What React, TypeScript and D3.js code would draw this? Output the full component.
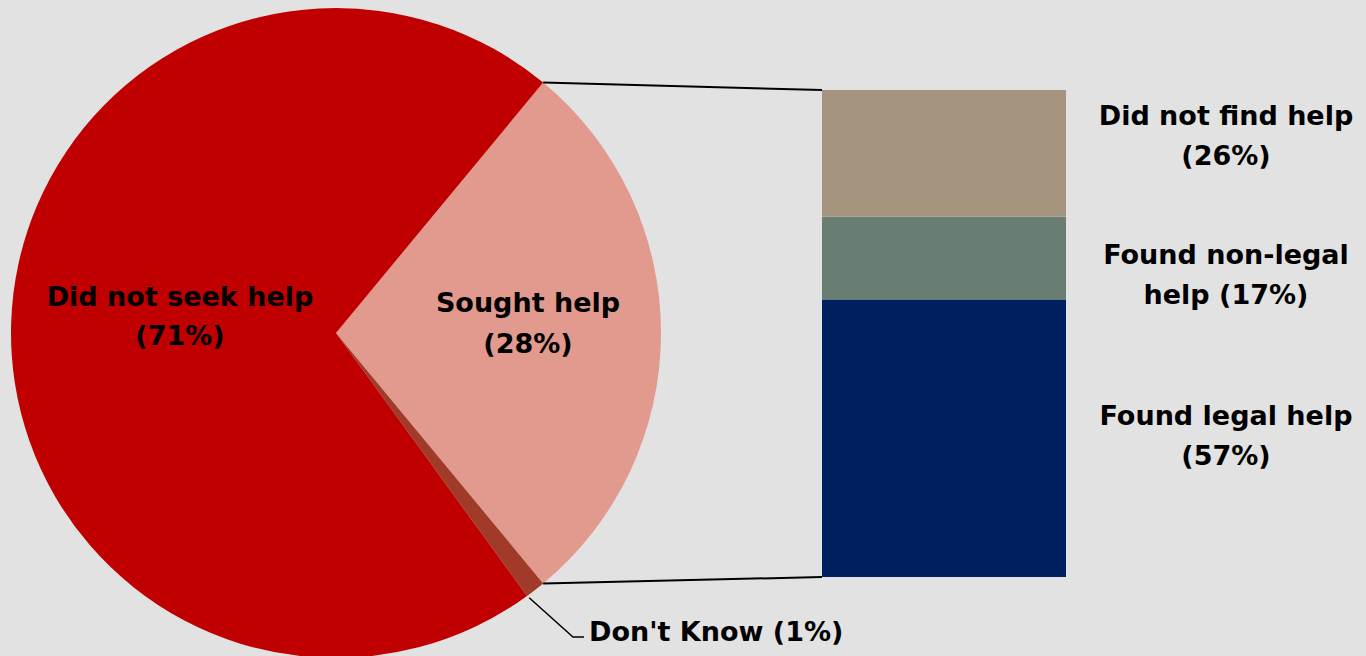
import React from "react";
import * as d3 from "d3";

const pieCategories = ["Sought help", "Don't Know", "Did not seek help"];
const pieValues = [28, 1, 71];
const pieColors = ["#E2998E", "#A13A29", "#C00000"];

const barCategories = ["Found legal help", "Found non-legal help", "Did not find help"];
const barValues = [57, 17, 26];
const barColors = ["#001F5F", "#6A7D72", "#A6957E"];

const W = 1366;
const H = 656;
const cx = 336;
const cy = 333;
const R = 325;
const FONT = "'DejaVu Sans', sans-serif";

export default function App() {
  const pie = d3
    .pie<number>()
    .sort(null)
    .startAngle(0.22 * Math.PI)
    .endAngle(0.22 * Math.PI + 2 * Math.PI)(pieValues);
  const arc = d3.arc<d3.PieArcDatum<number>>().innerRadius(0).outerRadius(R);

  const pt = (a: number, r: number) => [cx + r * Math.sin(a), cy - r * Math.cos(a)];

  const sought = pie[0];
  const dk = pie[1];
  const topPt = pt(sought.startAngle, R);
  const botPt = pt(sought.endAngle, R);
  const dkPt = pt((dk.startAngle + dk.endAngle) / 2, R);

  const barX0 = 822;
  const barX1 = 1066;
  const y = d3.scaleLinear().domain([0, 100]).range([577, 90]);
  let acc = 0;
  const segs = barValues.map((v, i) => {
    const s = { y0: y(acc), y1: y(acc + v), i, v };
    acc += v;
    return s;
  });

  const barLabels = [
    { lines: ["Found legal help", "(57%)"], y: 425 },
    { lines: ["Found non-legal", "help (17%)"], y: 264 },
    { lines: ["Did not find help", "(26%)"], y: 125 },
  ];

  return (
    <svg width={W} height={H} style={{ position: "absolute", left: 0, top: 0, display: "block" }}>
      <rect x={0} y={0} width={W} height={H} fill="#E2E2E2" />
      <g transform={`translate(${cx},${cy})`}>
        {pie.map((d, i) => (
          <path key={pieCategories[i]} d={arc(d) || ""} fill={pieColors[i]} />
        ))}
      </g>
      <line x1={topPt[0]} y1={topPt[1]} x2={barX0} y2={y(100)} stroke="#000" strokeWidth={2} />
      <line x1={botPt[0]} y1={botPt[1]} x2={barX0} y2={y(0)} stroke="#000" strokeWidth={2} />
      {segs.map((s) => (
        <rect
          key={barCategories[s.i]}
          x={barX0}
          y={s.y1}
          width={barX1 - barX0}
          height={s.y0 - s.y1}
          fill={barColors[s.i]}
        />
      ))}
      <polyline
        points={`${dkPt[0] - 6},${dkPt[1] + 8} 573,637 584,637`}
        fill="none"
        stroke="#000"
        strokeWidth={1.5}
      />
      <g fontFamily={FONT} fontWeight="bold" fill="#000" fontSize={27}>
        <text x={180} y={306} textAnchor="middle">Did not seek help</text>
        <text x={180} y={345} textAnchor="middle">(71%)</text>
        <text x={528} y={312} textAnchor="middle">Sought help</text>
        <text x={528} y={353} textAnchor="middle">(28%)</text>
        <text x={589} y={641}>Don't Know (1%)</text>
        {barLabels.map((b) => (
          <g key={b.lines[0]}>
            <text x={1226} y={b.y} textAnchor="middle">{b.lines[0]}</text>
            <text x={1226} y={b.y + 40} textAnchor="middle">{b.lines[1]}</text>
          </g>
        ))}
      </g>
    </svg>
  );
}
